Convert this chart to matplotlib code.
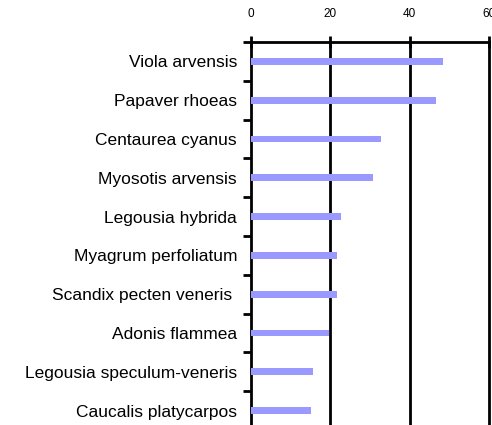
import matplotlib
matplotlib.use("Agg")
import matplotlib.pyplot as plt
from matplotlib.ticker import FixedLocator

species = ["Viola arvensis", "Papaver rhoeas", "Centaurea cyanus", "Myosotis arvensis",
           "Legousia hybrida", "Myagrum perfoliatum", "Scandix pecten veneris ",
           "Adonis flammea", "Legousia speculum-veneris", "Caucalis platycarpos"]
values = [48.5, 46.6, 32.7, 30.7, 22.7, 21.7, 21.7, 19.7, 15.6, 15.1]
xticks = [0, 20, 40, 60]

plt.rcParams['font.family'] = ['Liberation Sans', 'DejaVu Sans']
fig = plt.figure(figsize=(4.92, 4.25), dpi=100)
ax = fig.add_axes([251/492, (425-430)/425, (489-251)/492, (430-42)/425])

pos = list(range(len(species)))
ax.barh(pos, values, height=0.18, color="#9999FF", zorder=3)
ax.set_xlim(0, 60)
ax.set_ylim(len(species)-0.5, -0.5)

ax.xaxis.set_major_locator(FixedLocator(xticks))
ax.xaxis.tick_top()
ax.tick_params(axis='x', which='major', direction='inout', length=9, width=2,
               labelsize=8.5, pad=11, colors='black')
for x in xticks[1:-1]:
    ax.axvline(x, color='black', lw=2, zorder=2)

ax.yaxis.set_major_locator(FixedLocator([p - 0.5 for p in pos] + [len(species)-0.5]))
ax.yaxis.set_minor_locator(FixedLocator(pos))
ax.set_yticklabels([], minor=False)
ax.set_yticklabels(species, minor=True)
ax.tick_params(axis='y', which='major', direction='out', length=6, width=2)
ax.tick_params(axis='y', which='minor', length=0, labelsize=12.5, pad=10)

for s in ['top', 'left', 'right']:
    ax.spines[s].set_linewidth(2)
ax.spines['bottom'].set_visible(False)

fig.savefig("out.png", dpi=100)
